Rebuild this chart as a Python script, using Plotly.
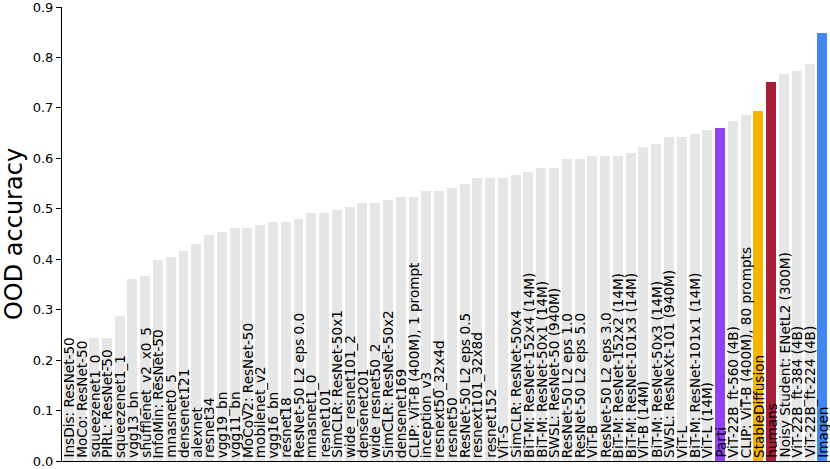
import plotly.graph_objects as go

# OOD accuracy per model, sorted ascending
models = [
    "InsDis: ResNet-50", "MoCo: ResNet-50", "squeezenet1_0", "PIRL: ResNet-50",
    "squeezenet1_1", "vgg13_bn", "shufflenet_v2_x0_5", "InfoMin: ResNet-50",
    "mnasnet0_5", "densenet121", "alexnet", "resnet34", "vgg19_bn", "vgg11_bn",
    "MoCoV2: ResNet-50", "mobilenet_v2", "vgg16_bn", "resnet18",
    "ResNet-50 L2 eps 0.0", "mnasnet1_0", "resnet101", "SimCLR: ResNet-50x1",
    "wide_resnet101_2", "densenet201", "wide_resnet50_2", "SimCLR: ResNet-50x2",
    "densenet169", "CLIP: ViT-B (400M), 1 prompt", "inception_v3",
    "resnext50_32x4d", "resnet50", "ResNet-50 L2 eps 0.5", "resnext101_32x8d",
    "resnet152", "ViT-S", "SimCLR: ResNet-50x4", "BiT-M: ResNet-152x4 (14M)",
    "BiT-M: ResNet-50x1 (14M)", "SWSL: ResNet-50 (940M)", "ResNet-50 L2 eps 1.0",
    "ResNet-50 L2 eps 5.0", "ViT-B", "ResNet-50 L2 eps 3.0",
    "BiT-M: ResNet-152x2 (14M)", "BiT-M: ResNet-101x3 (14M)", "ViT-B (14M)",
    "BiT-M: ResNet-50x3 (14M)", "SWSL: ResNeXt-101 (940M)", "ViT-L",
    "BiT-M: ResNet-101x1 (14M)", "ViT-L (14M)", "Parti", "ViT-22B_ft-560 (4B)",
    "CLIP: ViT-B (400M), 80 prompts", "StableDiffusion", "humans",
    "Noisy Student: ENetL2 (300M)", "ViT-22B_ft-384 (4B)", "ViT-22B_ft-224 (4B)",
    "Imagen",
]
ood_acc = [
    0.220, 0.230, 0.244, 0.244, 0.287, 0.361, 0.367, 0.399, 0.405, 0.417,
    0.430, 0.448, 0.454, 0.461, 0.461, 0.467, 0.473, 0.473, 0.479, 0.492,
    0.492, 0.498, 0.504, 0.511, 0.511, 0.517, 0.523, 0.523, 0.536, 0.536,
    0.542, 0.549, 0.561, 0.561, 0.561, 0.567, 0.573, 0.580, 0.580, 0.599,
    0.599, 0.605, 0.605, 0.605, 0.611, 0.623, 0.629, 0.642, 0.642, 0.648,
    0.656, 0.661, 0.674, 0.686, 0.693, 0.752, 0.768, 0.774, 0.787, 0.849,
]
highlight = {
    "Parti": "#9142f5",
    "StableDiffusion": "#f6b400",
    "humans": "#a61e38",
    "Imagen": "#4286f4",
}
base_color = "#e6e6e6"

xs = list(range(len(models)))
colors = [highlight.get(m, base_color) for m in models]

fig = go.Figure(go.Bar(
    x=xs, y=ood_acc, width=0.78,
    marker=dict(color=colors, line=dict(width=0)),
    hovertext=models, hoverinfo="text+y",
))

# labels written vertically inside each bar, starting at the baseline
for i, m in enumerate(models):
    fig.add_annotation(
        x=i, y=0, text=m, textangle=-90, showarrow=False,
        xanchor="center", yanchor="bottom", yshift=1,
        font=dict(family="DejaVu Sans", size=13.6, color="black"),
    )

fig.update_layout(
    width=830, height=469,
    margin=dict(l=62, r=0, t=4, b=6),
    plot_bgcolor="white", paper_bgcolor="white",
    showlegend=False, bargap=0,
    font=dict(family="DejaVu Sans", size=13, color="black"),
)
fig.update_xaxes(range=[-0.51, 59.6], showticklabels=False, ticks="",
                 showgrid=False, zeroline=False, showline=True,
                 linecolor="black", linewidth=1)
fig.update_yaxes(range=[0, 0.9], dtick=0.1, tickformat=".1f",
                 ticks="outside", ticklen=5, tickcolor="black",
                 ticklabeloverflow="allow",
                 showgrid=False, zeroline=False, showline=True,
                 linecolor="black", linewidth=1,
                 title=dict(text="OOD accuracy", font=dict(size=24), standoff=6))

# drop the page's default body margin so the figure sits at the window corner
fig.write_html("out.html", config={"displayModeBar": False},
               post_script="document.body.style.margin='0';"
                           "document.body.style.overflow='hidden';")
